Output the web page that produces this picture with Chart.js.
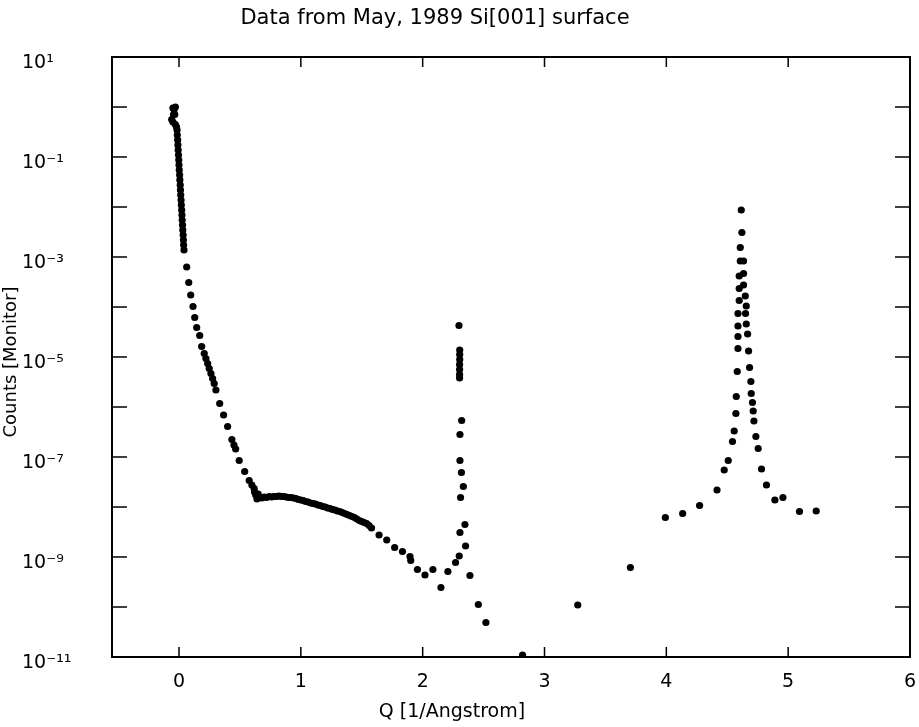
<!DOCTYPE html>
<html>
<head>
<meta charset="utf-8">
<script src="https://cdn.jsdelivr.net/npm/chart.js@4.4.1/dist/chart.umd.min.js"></script>
<style>
  body { margin: 0; background: #fff; }
  #wrap { width: 919px; height: 727px; }
</style>
</head>
<body>
<div id="wrap"><canvas id="chart" width="919" height="727"></canvas></div>
<script>
// Q values [1/Angstrom] and log10(counts)
const qValues = [
  // specular spike near Q = 0
  -0.05, -0.04, -0.03, -0.045, -0.035, -0.06, -0.05, -0.03, -0.02,
  -0.016, -0.014, -0.011, -0.009, -0.007, -0.004, -0.002, 0.000, 0.002, 0.005,
  0.007, 0.010, 0.012, 0.014, 0.017, 0.019, 0.022, 0.024, 0.026, 0.029,
  0.031, 0.034, 0.036, 0.038, 0.041,
  // fall-off
  0.063, 0.080, 0.096, 0.115, 0.129, 0.145, 0.170, 0.186,
  0.207, 0.221, 0.235, 0.248, 0.262, 0.276, 0.289, 0.303,
  0.334, 0.366, 0.399, 0.434, 0.451, 0.465, 0.494, 0.539, 0.576, 0.598, 0.617, 0.62, 0.63, 0.65,
  // plateau
  0.64, 0.66, 0.68, 0.70, 0.72, 0.74, 0.76, 0.78, 0.80, 0.82, 0.84, 0.86, 0.88, 0.90,
  0.92, 0.94, 0.96, 0.98, 1.00, 1.02, 1.04, 1.06, 1.08, 1.10, 1.12, 1.14, 1.16, 1.18,
  1.20, 1.22, 1.24, 1.26, 1.28, 1.30, 1.32, 1.34, 1.36, 1.38, 1.40, 1.42, 1.44, 1.46,
  1.48, 1.50, 1.52, 1.54, 1.56, 1.58,
  1.642, 1.705, 1.770, 1.834, 1.896, 1.902, 1.957, 2.019, 2.084, 2.150, 2.207, 2.270,
  // first Bragg peak
  2.300, 2.352, 2.306, 2.347, 2.311, 2.334, 2.318, 2.306, 2.306, 2.320,
  2.303, 2.303, 2.303, 2.303, 2.304, 2.304, 2.304, 2.298,
  2.388, 2.457, 2.519, 2.82,
  3.273, 3.705, 3.992, 4.134, 4.273, 4.416,
  // second Bragg peak, left side
  4.475, 4.508, 4.543, 4.557, 4.571, 4.574, 4.582, 4.588, 4.588, 4.588, 4.588,
  4.598, 4.598, 4.598, 4.607, 4.607, 4.620, 4.615,
  // right side
  4.634, 4.634, 4.634, 4.648, 4.656, 4.650, 4.656, 4.667, 4.675, 4.683, 4.694,
  4.697, 4.707, 4.713, 4.719, 4.735, 4.754, 4.781, 4.822, 4.891, 4.957, 5.093, 5.230
];
const logCounts = [
  -0.02, -0.05, 0.00, -0.15, -0.15, -0.25, -0.30, -0.35, -0.40,
  -0.46, -0.56, -0.66, -0.76, -0.86, -0.96, -1.06, -1.16, -1.26, -1.36,
  -1.46, -1.56, -1.66, -1.76, -1.86, -1.96, -2.06, -2.16, -2.26, -2.36,
  -2.46, -2.56, -2.66, -2.76, -2.86,
  -3.20, -3.51, -3.76, -3.99, -4.21, -4.41, -4.57, -4.79,
  -4.93, -5.03, -5.13, -5.23, -5.33, -5.43, -5.53, -5.66,
  -5.93, -6.16, -6.39, -6.65, -6.76, -6.84, -7.07, -7.29, -7.47, -7.56, -7.63, -7.70, -7.76, -7.74,
  -7.84, -7.80, -7.82, -7.80, -7.81, -7.79, -7.80, -7.79, -7.79, -7.78, -7.79, -7.79, -7.80, -7.81,
  -7.81, -7.82, -7.83, -7.85, -7.86, -7.87, -7.89, -7.90, -7.92, -7.93, -7.94, -7.96, -7.97, -7.99,
  -8.00, -8.02, -8.03, -8.05, -8.06, -8.08, -8.09, -8.11, -8.13, -8.15, -8.17, -8.19, -8.21, -8.24,
  -8.27, -8.29, -8.31, -8.33, -8.37, -8.42,
  -8.56, -8.66, -8.81, -8.89, -8.99, -9.07, -9.25, -9.36, -9.25, -9.61, -9.29, -9.11,
  -8.98, -8.78, -8.51, -8.35, -7.81, -7.59, -7.31, -7.07, -6.55, -6.27,
  -5.42, -5.35, -5.25, -5.15, -5.05, -4.95, -4.86, -4.37,
  -9.37, -9.95, -10.31, -10.96,
  -9.96, -9.21, -8.21, -8.13, -7.97, -7.66,
  -7.26, -7.07, -6.69, -6.48, -6.13, -5.79, -5.29, -4.83, -4.59, -4.38, -4.13,
  -3.87, -3.63, -3.38, -3.08, -2.81, -2.51, -2.06,
  -3.08, -3.33, -3.56, -3.78, -3.98, -4.13, -4.34, -4.54, -4.88, -5.21, -5.49,
  -5.73, -5.91, -6.08, -6.28, -6.59, -6.83, -7.24, -7.56, -7.86, -7.81, -8.09, -8.08
];

const xTicks = [0, 1, 2, 3, 4, 5, 6];
const yExponents = [1, 0, -1, -2, -3, -4, -5, -6, -7, -8, -9, -10, -11];
const supDigits = { "-": "⁻", "0": "⁰", "1": "¹", "2": "²", "3": "³", "4": "⁴", "5": "⁵", "6": "⁶", "7": "⁷", "8": "⁸", "9": "⁹" };

const chartTitle = "Data from May, 1989 Si[001] surface";
const xTitle = "Q [1/Angstrom]";
const yTitle = "Counts [Monitor]";

const points = qValues.map((q, i) => ({ x: q, y: Math.pow(10, logCounts[i]) }));

function supLabel(e) {
  return "10" + String(e).split("").map(c => supDigits[c]).join("");
}

// frame, inward ticks and text titles
const framePlugin = {
  id: "frame",
  afterDraw(chart) {
    const { ctx, chartArea: a, scales } = chart;
    ctx.save();
    ctx.strokeStyle = "#000";
    ctx.lineWidth = 2;
    ctx.strokeRect(a.left, a.top, a.right - a.left, a.bottom - a.top);
    ctx.lineWidth = 1.5;
    ctx.beginPath();
    yExponents.forEach(e => {
      const py = scales.y.getPixelForValue(Math.pow(10, e));
      ctx.moveTo(a.left, py); ctx.lineTo(a.left + 15, py);
      ctx.moveTo(a.right, py); ctx.lineTo(a.right - 15, py);
    });
    xTicks.forEach(v => {
      const px = scales.x.getPixelForValue(v);
      ctx.moveTo(px, a.bottom); ctx.lineTo(px, a.bottom - 10);
      ctx.moveTo(px, a.top); ctx.lineTo(px, a.top + 10);
    });
    ctx.stroke();

    ctx.fillStyle = "#000";
    ctx.textAlign = "center";
    ctx.textBaseline = "middle";
    ctx.font = "21px 'DejaVu Sans'";
    ctx.fillText(chartTitle, 435, 19);
    ctx.font = "19px 'DejaVu Sans'";
    ctx.fillText(xTitle, 452, 712);
    ctx.font = "18px 'DejaVu Sans'";
    ctx.translate(11, 362);
    ctx.rotate(-Math.PI / 2);
    ctx.fillText(yTitle, 0, 0);
    ctx.restore();
  }
};

new Chart(document.getElementById("chart"), {
  type: "scatter",
  data: {
    datasets: [{
      data: points,
      backgroundColor: "#000",
      borderWidth: 0,
      pointRadius: 3.6,
      pointHoverRadius: 3.6
    }]
  },
  options: {
    responsive: false,
    animation: false,
    layout: { padding: { left: 22, right: 9, top: 57, bottom: 0 } },
    plugins: { legend: { display: false }, tooltip: { enabled: false } },
    scales: {
      x: {
        type: "linear",
        min: -0.55,
        max: 6,
        afterBuildTicks: s => { s.ticks = xTicks.map(v => ({ value: v })); },
        afterFit: s => { s.height = 70; s.paddingLeft = 0; s.paddingRight = 0; },
        grid: { display: false, drawTicks: false },
        border: { display: false },
        ticks: { color: "#000", padding: 14, font: { family: "DejaVu Sans", size: 19 } }
      },
      y: {
        type: "logarithmic",
        min: 1e-11,
        max: 10,
        afterBuildTicks: s => { s.ticks = yExponents.map(e => ({ value: Math.pow(10, e) })); },
        afterFit: s => { s.width = 90; s.paddingTop = 0; s.paddingBottom = 0; },
        grid: { display: false, drawTicks: false },
        border: { display: false },
        ticks: {
          color: "#000",
          crossAlign: "far",
          labelOffset: 6,
          autoSkip: false,
          font: { family: "DejaVu Sans", size: 19 },
          callback: v => {
            const e = Math.round(Math.log10(v));
            return Math.abs(e) % 2 === 1 ? supLabel(e) : "";
          }
        }
      }
    }
  },
  plugins: [framePlugin]
});
</script>
</body>
</html>
